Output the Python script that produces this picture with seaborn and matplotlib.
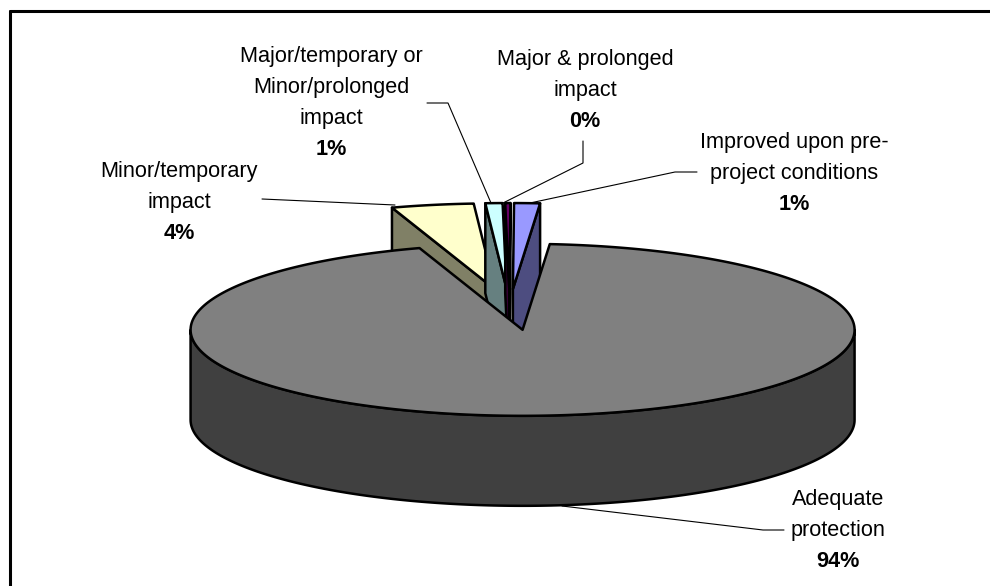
"""Exploded 3D style pie of the impact categories, drawn on pixel-scaled axes."""
import numpy as np
import matplotlib
matplotlib.use('Agg')
import matplotlib.pyplot as plt
import seaborn as sns

labels = ['Adequate\nprotection', 'Minor/temporary\nimpact',
          'Major/temporary or\nMinor/prolonged\nimpact', 'Major & prolonged\nimpact',
          'Improved upon pre-\nproject conditions']
printed = ['94%', '4%', '1%', '0%', '1%']
values = [93.67, 4.0, 0.83, 0.25, 1.25]
top_colors = ['#808080', '#FFFFCC', '#CCFFFF', '#660066', '#9999FF']
side_colors = ['#404040', '#808066', '#668080', '#330033', '#4D4D80']

W, H = 990, 586
CENTER = (509.6, 309.0)
RX, RY, DEPTH = 332, 86, 90
EXPLODE = 0.232
START = 4.7
MAIN_NUDGE = (4, 1)

sns.set_theme(style='white')
plt.rcParams['font.family'] = ['Liberation Sans', 'DejaVu Sans']


def rim(cx, cy, t):
    rad = np.radians(t)
    return cx + RX * np.sin(rad), cy - RY * np.cos(rad)


def draw_slice(ax, a, b, top, side, nudge=(0, 0), zo=1):
    mid = np.radians((a + b) / 2)
    cx = CENTER[0] + EXPLODE * RX * np.sin(mid) + nudge[0]
    cy = CENTER[1] - EXPLODE * RY * np.cos(mid) + nudge[1]
    kw = dict(ec='black', lw=1.8, joinstyle='round', zorder=zo)

    # cut faces, only the ones turned towards the viewer
    for t, show in ((a, np.sin(np.radians(a)) < 0), (b, np.sin(np.radians(b)) > 0)):
        if show:
            x, y = rim(cx, cy, t)
            ax.fill([cx, x, x, cx], [cy, y, y + DEPTH, cy + DEPTH], fc=side, **kw)

    # outer wall along the front half of the ellipse
    lo, hi = max(a, 90), min(b, 270)
    if hi > lo:
        ts = np.linspace(lo, hi, 200)
        x, y = rim(cx, cy, ts)
        ax.fill(np.r_[x, x[::-1]], np.r_[y, y[::-1] + DEPTH], fc=side, **kw)

    ts = np.linspace(a, b, 300)
    x, y = rim(cx, cy, ts)
    ax.fill(np.r_[cx, x], np.r_[cy, y], fc=top, **kw)


fig = plt.figure(figsize=(W / 100, H / 100), dpi=100)
ax = fig.add_axes([0, 0, 1, 1])
ax.set_xlim(0, W)
ax.set_ylim(H, 0)
ax.axis('off')

# chart frame, only the left and top sides fall inside the picture
ax.plot([10, 10], [11, H], color='black', lw=2.2)
ax.plot([10, W], [11, 11], color='black', lw=2.2)

# clockwise from the right edge of the large slice
angles = START + np.cumsum([0] + [v * 3.6 for v in values])
order = [1, 2, 3, 4, 0]
for i in order:
    a, b = angles[i], angles[i + 1]
    if i != 0:
        a, b = a - 360, b - 360
    draw_slice(ax, a, b, top_colors[i], side_colors[i],
               nudge=MAIN_NUDGE if i == 0 else (0, 0), zo=2 + order.index(i))

# leader lines
leaders = [([562, 763, 784], [506, 530, 530]),
           ([262, 395], [199, 205]),
           ([427, 448, 491], [103, 103, 203]),
           ([583, 583, 503], [141, 163, 203]),
           ([697, 675, 530], [172, 172, 203])]
for xs, ys in leaders:
    ax.plot(xs, ys, color='black', lw=0.8, zorder=10)

# labels, category text over the bold printed percentage, y is the first baseline
LINE = 31
FONT = 15.6
label_pos = [(838, 505), (179, 177), (331, 62), (585, 65), (794, 148)]
for lab, pct, (x, y) in zip(labels, printed, label_pos):
    lines = lab.split('\n')
    for k, line in enumerate(lines):
        ax.text(x, y + k * LINE, line, ha='center', va='baseline', fontsize=FONT, color='black', zorder=11)
    ax.text(x, y + len(lines) * LINE, pct, ha='center', va='baseline', fontsize=FONT,
            fontweight='bold', color='black', zorder=11)

fig.savefig('out.png', dpi=100)
